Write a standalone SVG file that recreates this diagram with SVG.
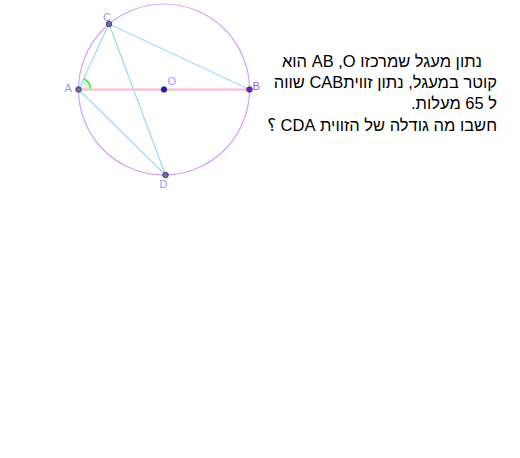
<svg xmlns="http://www.w3.org/2000/svg" width="520" height="458" viewBox="0 0 520 458">
<style>
.seg{stroke:#a0dcf8;stroke-width:1.3;fill:none}
.lbl{font-family:"Liberation Sans",Arial,sans-serif;font-size:11px;fill:#9a9aee}
.pt{stroke:#333344;stroke-width:0.8}
.txt{font-family:"Liberation Sans","DejaVu Sans",sans-serif;font-size:16.5px;fill:#000;direction:rtl;text-anchor:start}
.iso{unicode-bidi:isolate;direction:ltr}
</style>
<rect width="520" height="458" fill="#fff"/>
<g id="circle">
<circle cx="164" cy="89.5" r="85.5" fill="none" stroke="#d6a0f6" stroke-width="1.2"/>
</g>
<g id="angle">
<path d="M78.5,89.5 L90.5,89.5 A12,12 0 0 0 83.6,78.6 Z" fill="#dff7df" stroke="none"/>
<path d="M90.5,89.5 A12,12 0 0 0 83.6,78.6" fill="none" stroke="#33dd33" stroke-width="1.3"/>
</g>
<g id="connectors">
<line x1="78.5" y1="89.5" x2="249.5" y2="89.5" stroke="#ffb4c8" stroke-width="2"/>
<line class="seg" x1="78.5" y1="89.5" x2="109" y2="24"/>
<line class="seg" x1="109" y1="24" x2="249.5" y2="89.5"/>
<line class="seg" x1="109" y1="24" x2="165.5" y2="175"/>
<line class="seg" x1="78.5" y1="89.5" x2="165.5" y2="175"/>
</g>
<g id="A"><circle class="pt" cx="78.5" cy="89.5" r="2.8" fill="#6b6bb0"/><text class="lbl" x="64.5" y="92">A</text></g>
<g id="O"><circle class="pt" cx="164" cy="89.5" r="2.8" fill="#1a1acc"/><text class="lbl" x="167.5" y="85">O</text></g>
<g id="B"><circle class="pt" cx="249.5" cy="89.5" r="2.8" fill="#7020d0"/><text class="lbl" x="252.5" y="90" style="fill:#a060f0">B</text></g>
<g id="C"><circle class="pt" cx="109" cy="24" r="2.8" fill="#6b6bb0"/><text class="lbl" x="103" y="21">C</text></g>
<g id="D"><circle class="pt" cx="165.5" cy="175" r="2.8" fill="#6b6bb0"/><text class="lbl" x="159.5" y="188">D</text></g>
<g id="question">
<text class="txt" x="482" y="67">נתון מעגל שמרכזו <tspan class="iso">O</tspan>, AB הוא</text>
<text class="txt" x="497" y="88">קוטר במעגל, נתון זוויתCAB שווה</text>
<text class="txt" x="497" y="109">ל 65 מעלות.</text>
<text class="txt" x="497" y="130.5">חשבו מה גודלה של הזווית CDA ؟</text>
</g>
</svg>
